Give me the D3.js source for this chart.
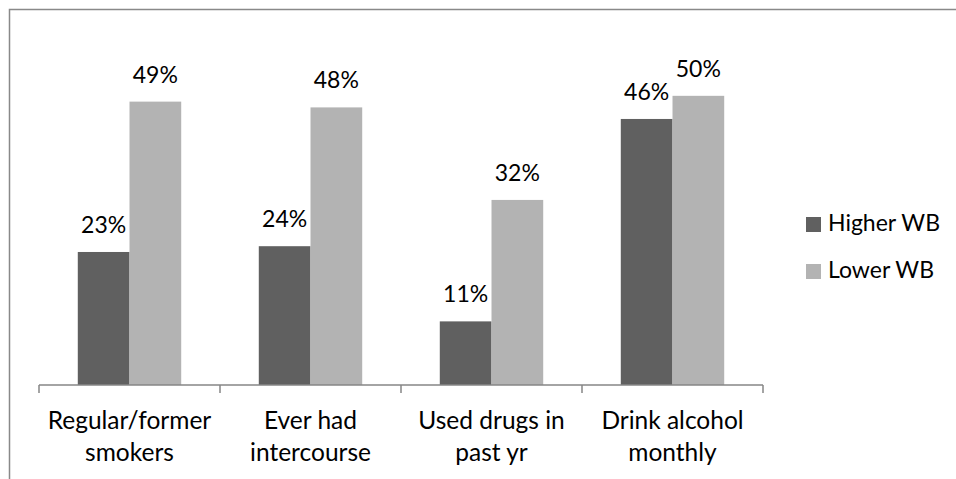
<!DOCTYPE html>
<html>
<head>
<meta charset="utf-8">
<script src="https://cdn.jsdelivr.net/npm/d3@7"></script>
<style>
  body { margin: 0; background: #fff; }
  svg text { font-family: Lato, "Liberation Sans", sans-serif; fill: #000; }
</style>
</head>
<body>
<div id="chart"></div>
<script>
// Bar chart: risk behaviours by wellbeing group.

var categories = ["Regular/former smokers", "Ever had intercourse", "Used drugs in past yr", "Drink alcohol monthly"];
var categoryLines = [["Regular/former", "smokers"], ["Ever had", "intercourse"], ["Used drugs in", "past yr"], ["Drink alcohol", "monthly"]];
var seriesNames = ["Higher WB", "Lower WB"];
var higherWB = [23, 24, 11, 46];
var lowerWB = [49, 48, 32, 50];
var seriesColors = ["#606060", "#b3b3b3"];

var width = 956, height = 479;

var svg = d3.select("#chart")
    .append("svg")
    .attr("width", width)
    .attr("height", height);

// outer frame (cropped on the right / bottom)
svg.append("rect")
    .attr("x", 9.5)
    .attr("y", 9.5)
    .attr("width", 980)
    .attr("height", 500)
    .attr("fill", "none")
    .attr("stroke", "#898989")
    .attr("stroke-width", 1.5);

var x = d3.scaleBand()
    .domain(categories)
    .range([39, 763]);

var xInner = d3.scaleBand()
    .domain(seriesNames)
    .range([0, x.bandwidth()])
    .paddingOuter(0.75);

var y = d3.scaleLinear()
    .domain([0, 60])
    .range([385, 38]);

var series = [higherWB, lowerWB];

series.forEach(function(vals, s) {
    var g = svg.append("g");
    g.selectAll("rect")
        .data(vals)
        .enter()
        .append("rect")
        .attr("x", function(d, i) { return x(categories[i]) + xInner(seriesNames[s]); })
        .attr("y", function(d) { return y(d); })
        .attr("width", xInner.bandwidth())
        .attr("height", function(d) { return y(0) - y(d); })
        .attr("fill", seriesColors[s]);

    // value labels
    g.selectAll("text")
        .data(vals)
        .enter()
        .append("text")
        .attr("x", function(d, i) { return x(categories[i]) + xInner(seriesNames[s]) + xInner.bandwidth() / 2; })
        .attr("y", function(d) { return y(d) - 19; })
        .attr("text-anchor", "middle")
        .style("font-size", "23px")
        .text(function(d) { return d + "%"; });
});

// category axis: line with ticks at band edges
var axis = svg.append("g").attr("stroke", "#868686").attr("stroke-width", 1.5);
axis.append("line")
    .attr("x1", x.range()[0]).attr("x2", x.range()[1])
    .attr("y1", y(0)).attr("y2", y(0));
var edges = categories.map(function(c) { return x(c); }).concat([x.range()[1]]);
axis.selectAll("line.tick")
    .data(edges)
    .enter()
    .append("line")
    .attr("class", "tick")
    .attr("x1", function(d) { return d; }).attr("x2", function(d) { return d; })
    .attr("y1", y(0)).attr("y2", y(0) + 8);

var labels = svg.append("g");
categoryLines.forEach(function(lines, i) {
    var t = labels.append("text")
        .attr("x", x(categories[i]) + x.bandwidth() / 2)
        .attr("y", 429)
        .attr("text-anchor", "middle")
        .style("font-size", "24.5px");
    lines.forEach(function(l, j) {
        t.append("tspan")
            .attr("x", x(categories[i]) + x.bandwidth() / 2)
            .attr("dy", j == 0 ? 0 : 32)
            .text(l);
    });
});

// legend
var legend = svg.append("g");
seriesNames.forEach(function(name, s) {
    legend.append("rect")
        .attr("x", 806)
        .attr("y", 217 + s * 47)
        .attr("width", 15)
        .attr("height", 15)
        .attr("fill", seriesColors[s]);
    legend.append("text")
        .attr("x", 828)
        .attr("y", 231 + s * 47)
        .style("font-size", "23px")
        .text(name);
});
</script>
</body>
</html>
